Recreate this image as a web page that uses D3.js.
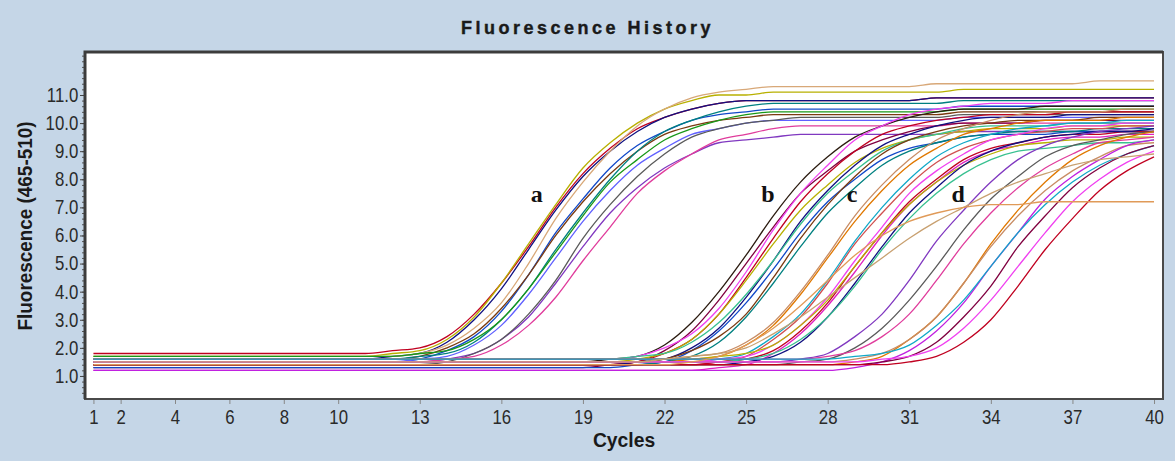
<!DOCTYPE html>
<html>
<head>
<meta charset="utf-8">
<title>Fluorescence History</title>
<style>
body { margin: 0; background: #c5d6e7; }
svg { display: block; }
</style>
</head>
<body>
<div id="chart"></div>
<script src="https://d3js.org/d3.v7.min.js"></script>
<script>
// cycles on the x axis
const cycles = [1,2,3,4,5,6,7,8,9,10, 11,12,13,14,15,16,17,18,19,20,
                21,22,23,24,25,26,27,28,29,30, 31,32,33,34,35,36,37,38,39,40];
const xTicks = [1,2,4,6,8,10,13,16,19,22,25,28,31,34,37,40];
const yTicks = [1,2,3,4,5,6,7,8,9,10,11];

// fluorescence per cycle, one row per well, 10 cycles per block
const groupA = [
  [1.8,1.8,1.8,1.8,1.8,1.8,1.8,1.8,1.8,1.8, 1.8,1.9,2.0,2.4,3.2,4.3,5.6,7.0,8.2,9.1, 9.8,10.2,10.5,10.7,10.8,10.8,10.8,10.8,10.8,10.8, 10.8,10.9,10.9,10.9,10.9,10.9,10.9,10.9,10.9,10.9],
  [1.7,1.7,1.7,1.7,1.7,1.7,1.7,1.7,1.7,1.7, 1.7,1.8,1.9,2.3,3.1,4.3,5.7,7.1,8.4,9.3, 10.0,10.5,10.8,11.0,11.0,11.1,11.1,11.1,11.1,11.1, 11.1,11.1,11.2,11.2,11.2,11.2,11.2,11.2,11.2,11.2],
  [1.6,1.6,1.6,1.6,1.6,1.6,1.6,1.6,1.6,1.6, 1.6,1.7,1.8,2.2,3.0,4.1,5.5,6.9,8.1,9.0, 9.7,10.2,10.5,10.7,10.8,10.8,10.8,10.8,10.8,10.8, 10.8,10.9,10.9,10.9,10.9,10.9,10.9,10.9,10.9,10.9],
  [1.7,1.7,1.7,1.7,1.7,1.7,1.7,1.7,1.7,1.7, 1.7,1.7,1.8,2.1,2.7,3.6,5.0,6.6,7.9,9.0, 9.9,10.5,10.9,11.1,11.2,11.3,11.3,11.3,11.3,11.3, 11.3,11.4,11.4,11.4,11.4,11.4,11.4,11.5,11.5,11.5],
  [1.5,1.5,1.5,1.5,1.5,1.5,1.5,1.5,1.5,1.5, 1.5,1.5,1.6,1.9,2.4,3.3,4.6,6.1,7.3,8.4, 9.2,9.7,10.1,10.3,10.4,10.5,10.5,10.5,10.5,10.5, 10.5,10.5,10.6,10.6,10.6,10.6,10.6,10.6,10.6,10.6],
  [1.6,1.6,1.6,1.6,1.6,1.6,1.6,1.6,1.6,1.6, 1.6,1.6,1.7,2.0,2.5,3.4,4.6,6.0,7.2,8.2, 9.0,9.6,9.9,10.1,10.2,10.3,10.3,10.3,10.3,10.3, 10.3,10.3,10.4,10.4,10.4,10.4,10.4,10.4,10.4,10.4],
  [1.6,1.6,1.6,1.6,1.6,1.6,1.6,1.6,1.6,1.6, 1.6,1.6,1.7,1.8,2.2,3.0,4.1,5.5,6.8,8.0, 9.0,9.7,10.1,10.4,10.6,10.7,10.7,10.7,10.7,10.7, 10.7,10.7,10.8,10.8,10.8,10.8,10.8,10.8,10.8,10.8],
  [1.5,1.5,1.5,1.5,1.5,1.5,1.5,1.5,1.5,1.5, 1.5,1.5,1.6,1.7,2.1,2.8,3.9,5.2,6.5,7.6, 8.5,9.1,9.6,9.8,10.0,10.1,10.1,10.1,10.1,10.1, 10.1,10.1,10.2,10.2,10.2,10.2,10.2,10.2,10.2,10.2],
  [1.7,1.7,1.7,1.7,1.7,1.7,1.7,1.7,1.7,1.7, 1.7,1.7,1.8,1.9,2.3,3.0,4.1,5.4,6.7,7.9, 8.7,9.4,9.8,10.1,10.3,10.4,10.4,10.4,10.4,10.4, 10.4,10.4,10.5,10.5,10.5,10.5,10.5,10.5,10.5,10.5],
  [1.5,1.5,1.5,1.5,1.5,1.5,1.5,1.5,1.5,1.5, 1.5,1.5,1.5,1.6,1.8,2.3,3.1,4.3,5.6,6.8, 7.7,8.4,8.9,9.3,9.4,9.5,9.6,9.6,9.6,9.6, 9.6,9.6,9.7,9.7,9.7,9.7,9.7,9.7,9.7,9.7],
  [1.4,1.4,1.4,1.4,1.4,1.4,1.4,1.4,1.4,1.4, 1.4,1.4,1.4,1.5,1.8,2.3,3.2,4.4,5.9,7.1, 8.1,8.9,9.5,9.8,10.0,10.1,10.2,10.2,10.2,10.2, 10.2,10.2,10.3,10.3,10.3,10.3,10.3,10.3,10.3,10.3],
  [1.5,1.5,1.5,1.5,1.5,1.5,1.5,1.5,1.5,1.5, 1.5,1.5,1.5,1.6,1.7,2.1,2.8,3.8,5.1,6.3, 7.5,8.3,8.9,9.4,9.6,9.8,9.9,9.9,9.9,9.9, 9.9,9.9,10.0,10.0,10.0,10.0,10.0,10.0,10.0,10.0]
];

const groupB = [
  [1.5,1.5,1.5,1.5,1.5,1.5,1.5,1.5,1.5,1.5, 1.5,1.5,1.5,1.5,1.5,1.5,1.5,1.5,1.5,1.6, 1.7,2.1,2.9,4.0,5.3,6.7,7.9,8.8,9.5,9.9, 10.2,10.4,10.5,10.5,10.5,10.6,10.6,10.6,10.6,10.6],
  [1.3,1.3,1.3,1.3,1.3,1.3,1.3,1.3,1.3,1.3, 1.3,1.3,1.3,1.3,1.3,1.3,1.3,1.3,1.3,1.4, 1.5,1.9,2.6,3.7,5.0,6.3,7.5,8.3,9.0,9.4, 9.7,9.9,10.0,10.0,10.0,10.1,10.1,10.1,10.1,10.1],
  [1.6,1.6,1.6,1.6,1.6,1.6,1.6,1.6,1.6,1.6, 1.6,1.6,1.6,1.6,1.6,1.6,1.6,1.6,1.6,1.6, 1.7,2.0,2.5,3.4,4.7,6.2,7.5,8.5,9.4,9.9, 10.3,10.5,10.6,10.7,10.7,10.7,10.8,10.8,10.8,10.8],
  [1.4,1.4,1.4,1.4,1.4,1.4,1.4,1.4,1.4,1.4, 1.4,1.4,1.4,1.4,1.4,1.4,1.4,1.4,1.4,1.4, 1.5,1.8,2.3,3.2,4.5,5.9,7.2,8.2,9.0,9.6, 9.9,10.1,10.2,10.3,10.3,10.3,10.4,10.4,10.4,10.4],
  [1.5,1.5,1.5,1.5,1.5,1.5,1.5,1.5,1.5,1.5, 1.5,1.5,1.5,1.5,1.5,1.5,1.5,1.5,1.5,1.5, 1.6,1.8,2.3,3.2,4.4,5.7,6.9,7.8,8.6,9.1, 9.4,9.6,9.7,9.8,9.8,9.8,9.9,9.9,9.9,9.9],
  [1.4,1.4,1.4,1.4,1.4,1.4,1.4,1.4,1.4,1.4, 1.4,1.4,1.4,1.4,1.4,1.4,1.4,1.4,1.4,1.4, 1.5,1.6,2.0,2.7,3.8,5.1,6.5,7.6,8.5,9.2, 9.6,9.9,10.1,10.2,10.2,10.2,10.3,10.3,10.3,10.3],
  [1.6,1.6,1.6,1.6,1.6,1.6,1.6,1.6,1.6,1.6, 1.6,1.6,1.6,1.6,1.6,1.6,1.6,1.6,1.6,1.6, 1.7,1.8,2.2,2.9,3.9,5.1,6.4,7.5,8.3,9.0, 9.4,9.6,9.8,9.9,9.9,9.9,10.0,10.0,10.0,10.0],
  [1.3,1.3,1.3,1.3,1.3,1.3,1.3,1.3,1.3,1.3, 1.3,1.3,1.3,1.3,1.3,1.3,1.3,1.3,1.3,1.3, 1.4,1.5,1.9,2.6,3.6,4.8,6.1,7.2,8.0,8.7, 9.1,9.3,9.5,9.6,9.6,9.6,9.7,9.7,9.7,9.7],
  [1.5,1.5,1.5,1.5,1.5,1.5,1.5,1.5,1.5,1.5, 1.5,1.5,1.5,1.5,1.5,1.5,1.5,1.5,1.5,1.5, 1.5,1.6,1.9,2.4,3.2,4.5,5.9,7.1,8.1,8.9, 9.4,9.7,9.9,10.0,10.1,10.1,10.1,10.2,10.2,10.2],
  [1.4,1.4,1.4,1.4,1.4,1.4,1.4,1.4,1.4,1.4, 1.4,1.4,1.4,1.4,1.4,1.4,1.4,1.4,1.4,1.4, 1.4,1.5,1.7,2.2,3.1,4.3,5.6,6.8,7.7,8.5, 9.0,9.3,9.5,9.6,9.7,9.7,9.7,9.8,9.8,9.8]
];

const groupC = [
  [1.5,1.5,1.5,1.5,1.5,1.5,1.5,1.5,1.5,1.5, 1.5,1.5,1.5,1.5,1.5,1.5,1.5,1.5,1.5,1.5, 1.5,1.5,1.6,1.7,2.1,2.8,3.9,5.2,6.5,7.6, 8.5,9.1,9.6,9.8,10.0,10.1,10.1,10.1,10.2,10.2],
  [1.6,1.6,1.6,1.6,1.6,1.6,1.6,1.6,1.6,1.6, 1.6,1.6,1.6,1.6,1.6,1.6,1.6,1.6,1.6,1.6, 1.6,1.6,1.7,1.8,2.2,2.9,4.0,5.3,6.7,7.8, 8.7,9.4,9.8,10.1,10.3,10.4,10.4,10.4,10.5,10.5],
  [1.4,1.4,1.4,1.4,1.4,1.4,1.4,1.4,1.4,1.4, 1.4,1.4,1.4,1.4,1.4,1.4,1.4,1.4,1.4,1.4, 1.4,1.4,1.4,1.5,1.7,2.3,3.1,4.3,5.7,6.8, 7.8,8.6,9.1,9.4,9.6,9.7,9.8,9.8,9.9,9.9],
  [1.5,1.5,1.5,1.5,1.5,1.5,1.5,1.5,1.5,1.5, 1.5,1.5,1.5,1.5,1.5,1.5,1.5,1.5,1.5,1.5, 1.5,1.5,1.5,1.6,1.8,2.4,3.2,4.4,5.8,7.0, 8.0,8.8,9.3,9.6,9.8,9.9,10.0,10.0,10.1,10.1],
  [1.2,1.2,1.2,1.2,1.2,1.2,1.2,1.2,1.2,1.2, 1.2,1.2,1.2,1.2,1.2,1.2,1.2,1.2,1.2,1.2, 1.2,1.2,1.2,1.3,1.4,1.8,2.5,3.5,4.7,6.0, 7.1,7.9,8.6,9.0,9.2,9.4,9.5,9.5,9.6,9.6],
  [1.5,1.5,1.5,1.5,1.5,1.5,1.5,1.5,1.5,1.5, 1.5,1.5,1.5,1.5,1.5,1.5,1.5,1.5,1.5,1.5, 1.5,1.5,1.5,1.6,1.7,2.1,2.8,3.8,5.1,6.3, 7.5,8.3,8.9,9.4,9.6,9.8,9.9,9.9,10.0,10.0],
  [1.4,1.4,1.4,1.4,1.4,1.4,1.4,1.4,1.4,1.4, 1.4,1.4,1.4,1.4,1.4,1.4,1.4,1.4,1.4,1.4, 1.4,1.4,1.4,1.5,1.6,1.9,2.6,3.6,4.9,6.1, 7.2,8.0,8.7,9.1,9.3,9.5,9.6,9.6,9.7,9.7],
  [1.6,1.6,1.6,1.6,1.6,1.6,1.6,1.6,1.6,1.6, 1.6,1.6,1.6,1.6,1.6,1.6,1.6,1.6,1.6,1.6, 1.6,1.6,1.6,1.7,1.8,2.1,2.8,3.7,4.9,6.1, 7.1,7.9,8.5,8.9,9.2,9.3,9.4,9.4,9.5,9.5],
  [1.4,1.4,1.4,1.4,1.4,1.4,1.4,1.4,1.4,1.4, 1.4,1.4,1.4,1.4,1.4,1.4,1.4,1.4,1.4,1.4, 1.4,1.4,1.4,1.4,1.5,1.7,2.2,3.1,4.3,5.6, 6.8,7.7,8.5,9.0,9.3,9.5,9.6,9.7,9.7,9.8],
  [1.5,1.5,1.5,1.5,1.5,1.5,1.5,1.5,1.5,1.5, 1.5,1.5,1.5,1.5,1.5,1.5,1.5,1.5,1.5,1.5, 1.5,1.5,1.5,1.5,1.6,1.8,2.3,3.1,4.2,5.5, 6.6,7.5,8.2,8.7,9.0,9.1,9.2,9.3,9.3,9.4]
];

const groupD = [
  [1.5,1.5,1.5,1.5,1.5,1.5,1.5,1.5,1.5,1.5, 1.5,1.5,1.5,1.5,1.5,1.5,1.5,1.5,1.5,1.5, 1.5,1.5,1.5,1.5,1.5,1.5,1.6,1.8,2.4,3.2, 4.4,5.8,6.9,7.9,8.7,9.2,9.5,9.7,9.8,9.9],
  [1.4,1.4,1.4,1.4,1.4,1.4,1.4,1.4,1.4,1.4, 1.4,1.4,1.4,1.4,1.4,1.4,1.4,1.4,1.4,1.4, 1.4,1.4,1.4,1.4,1.4,1.4,1.5,1.6,2.0,2.7, 3.7,4.9,6.2,7.3,8.1,8.8,9.2,9.4,9.6,9.7],
  [1.6,1.6,1.6,1.6,1.6,1.6,1.6,1.6,1.6,1.6, 1.6,1.6,1.6,1.6,1.6,1.6,1.6,1.6,1.6,1.6, 1.6,1.6,1.6,1.6,1.6,1.6,1.6,1.7,1.9,2.4, 3.2,4.4,5.7,6.8,7.7,8.4,8.9,9.3,9.4,9.5],
  [1.4,1.4,1.4,1.4,1.4,1.4,1.4,1.4,1.4,1.4, 1.4,1.4,1.4,1.4,1.4,1.4,1.4,1.4,1.4,1.4, 1.4,1.4,1.4,1.4,1.4,1.4,1.4,1.4,1.5,1.7, 2.3,3.1,4.3,5.7,6.9,7.9,8.7,9.2,9.5,9.7],
  [1.5,1.5,1.5,1.5,1.5,1.5,1.5,1.5,1.5,1.5, 1.5,1.5,1.5,1.5,1.5,1.5,1.5,1.5,1.5,1.5, 1.5,1.5,1.5,1.5,1.5,1.5,1.5,1.5,1.6,1.8, 2.3,3.1,4.3,5.6,6.7,7.6,8.3,8.8,9.2,9.3],
  [1.2,1.2,1.2,1.2,1.2,1.2,1.2,1.2,1.2,1.2, 1.2,1.2,1.2,1.2,1.2,1.2,1.2,1.2,1.2,1.2, 1.2,1.2,1.2,1.2,1.2,1.2,1.2,1.2,1.3,1.5, 1.9,2.6,3.6,4.9,6.1,7.3,8.1,8.7,9.2,9.4],
  [1.6,1.6,1.6,1.6,1.6,1.6,1.6,1.6,1.6,1.6, 1.6,1.6,1.6,1.6,1.6,1.6,1.6,1.6,1.6,1.6, 1.6,1.6,1.6,1.6,1.6,1.6,1.6,1.6,1.7,1.8, 2.1,2.8,3.7,4.9,6.1,7.1,7.9,8.5,8.9,9.2],
  [1.4,1.4,1.4,1.4,1.4,1.4,1.4,1.4,1.4,1.4, 1.4,1.4,1.4,1.4,1.4,1.4,1.4,1.4,1.4,1.4, 1.4,1.4,1.4,1.4,1.4,1.4,1.4,1.4,1.4,1.5, 1.7,2.2,3.1,4.2,5.6,6.7,7.7,8.4,8.9,9.2],
  [1.5,1.5,1.5,1.5,1.5,1.5,1.5,1.5,1.5,1.5, 1.5,1.5,1.5,1.5,1.5,1.5,1.5,1.5,1.5,1.5, 1.5,1.5,1.5,1.5,1.5,1.5,1.5,1.5,1.5,1.6, 1.7,2.0,2.7,3.7,4.9,6.1,7.2,8.0,8.6,9.0],
  [1.4,1.4,1.4,1.4,1.4,1.4,1.4,1.4,1.4,1.4, 1.4,1.4,1.4,1.4,1.4,1.4,1.4,1.4,1.4,1.4, 1.4,1.4,1.4,1.4,1.4,1.4,1.4,1.4,1.4,1.4, 1.5,1.7,2.2,3.0,4.2,5.5,6.6,7.6,8.3,8.8]
];

// two odd wells with a lower plateau
const groupOdd = [
  [1.5,1.5,1.5,1.5,1.5,1.5,1.5,1.5,1.5,1.5, 1.5,1.5,1.5,1.5,1.5,1.5,1.5,1.5,1.5,1.5, 1.5,1.6,1.7,1.8,2.0,2.5,3.1,3.8,4.5,5.2, 5.9,6.5,7.0,7.5,7.9,8.2,8.5,8.7,8.8,8.9],
  [1.4,1.4,1.4,1.4,1.4,1.4,1.4,1.4,1.4,1.4, 1.4,1.4,1.4,1.4,1.4,1.4,1.4,1.4,1.4,1.4, 1.4,1.4,1.5,1.7,2.1,2.7,3.5,4.4,5.3,6.0, 6.5,6.8,7.0,7.1,7.1,7.2,7.2,7.2,7.2,7.2]
];

const lineColors = ["#c00020","#e03c9c","#1048c8","#10a8c8","#189818","#b8b000",
                    "#e07800","#7a3a10","#800040","#8038c0","#101080","#c88c64",
                    "#008080","#f040f0","#5a5a5a","#38c090","#d05050","#6060ff"];
const topColor = "#d8a878";
const firstBColor = "#2b1b10";
const lowColors = ["#e020c0","#c020e0"];
const oddColors = ["#c8a070","#e09a58"];

const letters = ["a","b","c","d"];
const letterCycles = [17.3, 25.8, 28.9, 32.8];
const letterLevel = 7.2;

const width = 1175, height = 461;
const plot = {left: 85, top: 52, right: 1163, bottom: 399};

const svg = d3.select("#chart").append("svg")
    .attr("width", width)
    .attr("height", height);

svg.append("rect").attr("width", width).attr("height", height).attr("fill", "#c5d6e7");

const x = d3.scaleLinear().domain([0.69, 40.33]).range([plot.left, plot.right]);
const y = d3.scaleLinear().domain([0.18, 12.53]).range([plot.bottom, plot.top]);

svg.append("rect")
    .attr("x", plot.left).attr("y", plot.top)
    .attr("width", plot.right - plot.left).attr("height", plot.bottom - plot.top)
    .attr("fill", "#fff");

svg.append("clipPath").attr("id", "clip")
  .append("rect")
    .attr("x", plot.left).attr("y", plot.top)
    .attr("width", plot.right - plot.left).attr("height", plot.bottom - plot.top);

const line = d3.line()
    .x((d, i) => x(cycles[i]))
    .y(d => y(d))
    .curve(d3.curveMonotoneX);

const wells = [];
[groupA, groupB, groupC, groupD].forEach((g, gi) => {
  g.forEach((vals, i) => wells.push({vals, color: lineColors[(i * 5 + gi * 3) % lineColors.length]}));
});
wells[3].color = topColor;                 // top plateau well in group a
wells[groupA.length].color = firstBColor;  // earliest well of group b
wells[groupA.length + groupB.length + 4].color = lowColors[0];
wells[groupA.length + groupB.length + groupC.length + 5].color = lowColors[1];
groupOdd.forEach((vals, i) => wells.push({vals, color: oddColors[i]}));

svg.append("g").attr("clip-path", "url(#clip)")
  .selectAll("path")
  .data(wells)
  .join("path")
    .attr("d", d => line(d.vals))
    .attr("fill", "none")
    .attr("stroke", d => d.color)
    .attr("stroke-width", 1.3);

// axes
const tickFont = "'Liberation Sans', Arial, sans-serif";

const yMinor = svg.append("g")
    .attr("transform", `translate(${plot.left},0)`)
    .call(d3.axisLeft(y).tickValues(d3.range(0.4, 12.5, 0.2)).tickSize(3).tickFormat(""));
yMinor.select(".domain").remove();
yMinor.selectAll("line").attr("stroke", "#555");

const yAxis = svg.append("g")
    .attr("transform", `translate(${plot.left},0)`)
    .call(d3.axisLeft(y).tickValues(yTicks).tickSize(5).tickPadding(3).tickFormat(d3.format(".1f")));
yAxis.select(".domain").remove();
yAxis.selectAll("line").attr("stroke", "#444");
yAxis.selectAll("text")
    .attr("font-family", tickFont).attr("font-size", 20).attr("fill", "#2a2a2a")
    .attr("transform", "scale(0.84,1)");

const xAxis = svg.append("g")
    .attr("transform", `translate(0,${plot.bottom})`)
    .call(d3.axisBottom(x).tickValues(xTicks).tickSize(5).tickPadding(6));
xAxis.select(".domain").remove();
xAxis.selectAll("line").attr("stroke", "#888");
xAxis.selectAll("text")
    .attr("font-family", tickFont).attr("font-size", 20).attr("fill", "#2a2a2a")
    .attr("transform", "scale(0.84,1)");

// frame
svg.append("rect")
    .attr("x", plot.left).attr("y", plot.top)
    .attr("width", plot.right - plot.left).attr("height", plot.bottom - plot.top)
    .attr("fill", "none")
    .attr("stroke", "#4a4a4a")
    .attr("stroke-width", 2);
svg.append("path")
    .attr("d", `M${plot.left},${plot.bottom}V${plot.top}H${plot.right}`)
    .attr("fill", "none")
    .attr("stroke", "#3c3c3c")
    .attr("stroke-width", 3);

// titles
svg.append("text")
    .attr("x", width / 2).attr("y", 34)
    .attr("text-anchor", "middle")
    .attr("font-family", "'Liberation Sans', Arial, sans-serif")
    .attr("font-weight", "bold")
    .attr("font-size", 18)
    .attr("letter-spacing", 3.5)
    .attr("fill", "#1a1a1a")
    .attr("stroke", "#1a1a1a")
    .attr("stroke-width", 0.4)
    .text("Fluorescence History");

svg.append("text")
    .attr("transform", `translate(${(plot.left + plot.right) / 2},447) scale(0.92,1)`)
    .attr("text-anchor", "middle")
    .attr("font-family", tickFont)
    .attr("font-weight", "bold")
    .attr("font-size", 21)
    .attr("fill", "#1a1a1a")
    .text("Cycles");

svg.append("text")
    .attr("transform", "translate(32,226) rotate(-90) scale(0.9,1)")
    .attr("text-anchor", "middle")
    .attr("font-family", tickFont)
    .attr("font-weight", "bold")
    .attr("font-size", 21)
    .attr("fill", "#1a1a1a")
    .text("Fluorescence (465-510)");

// group letters
svg.append("g")
  .selectAll("text")
  .data(letters)
  .join("text")
    .attr("x", (d, i) => x(letterCycles[i]))
    .attr("y", y(letterLevel))
    .attr("text-anchor", "middle")
    .attr("font-family", "'Liberation Serif', 'Times New Roman', serif")
    .attr("font-weight", "bold")
    .attr("font-size", 24)
    .attr("fill", "#111")
    .text(d => d);
</script>
</body>
</html>
